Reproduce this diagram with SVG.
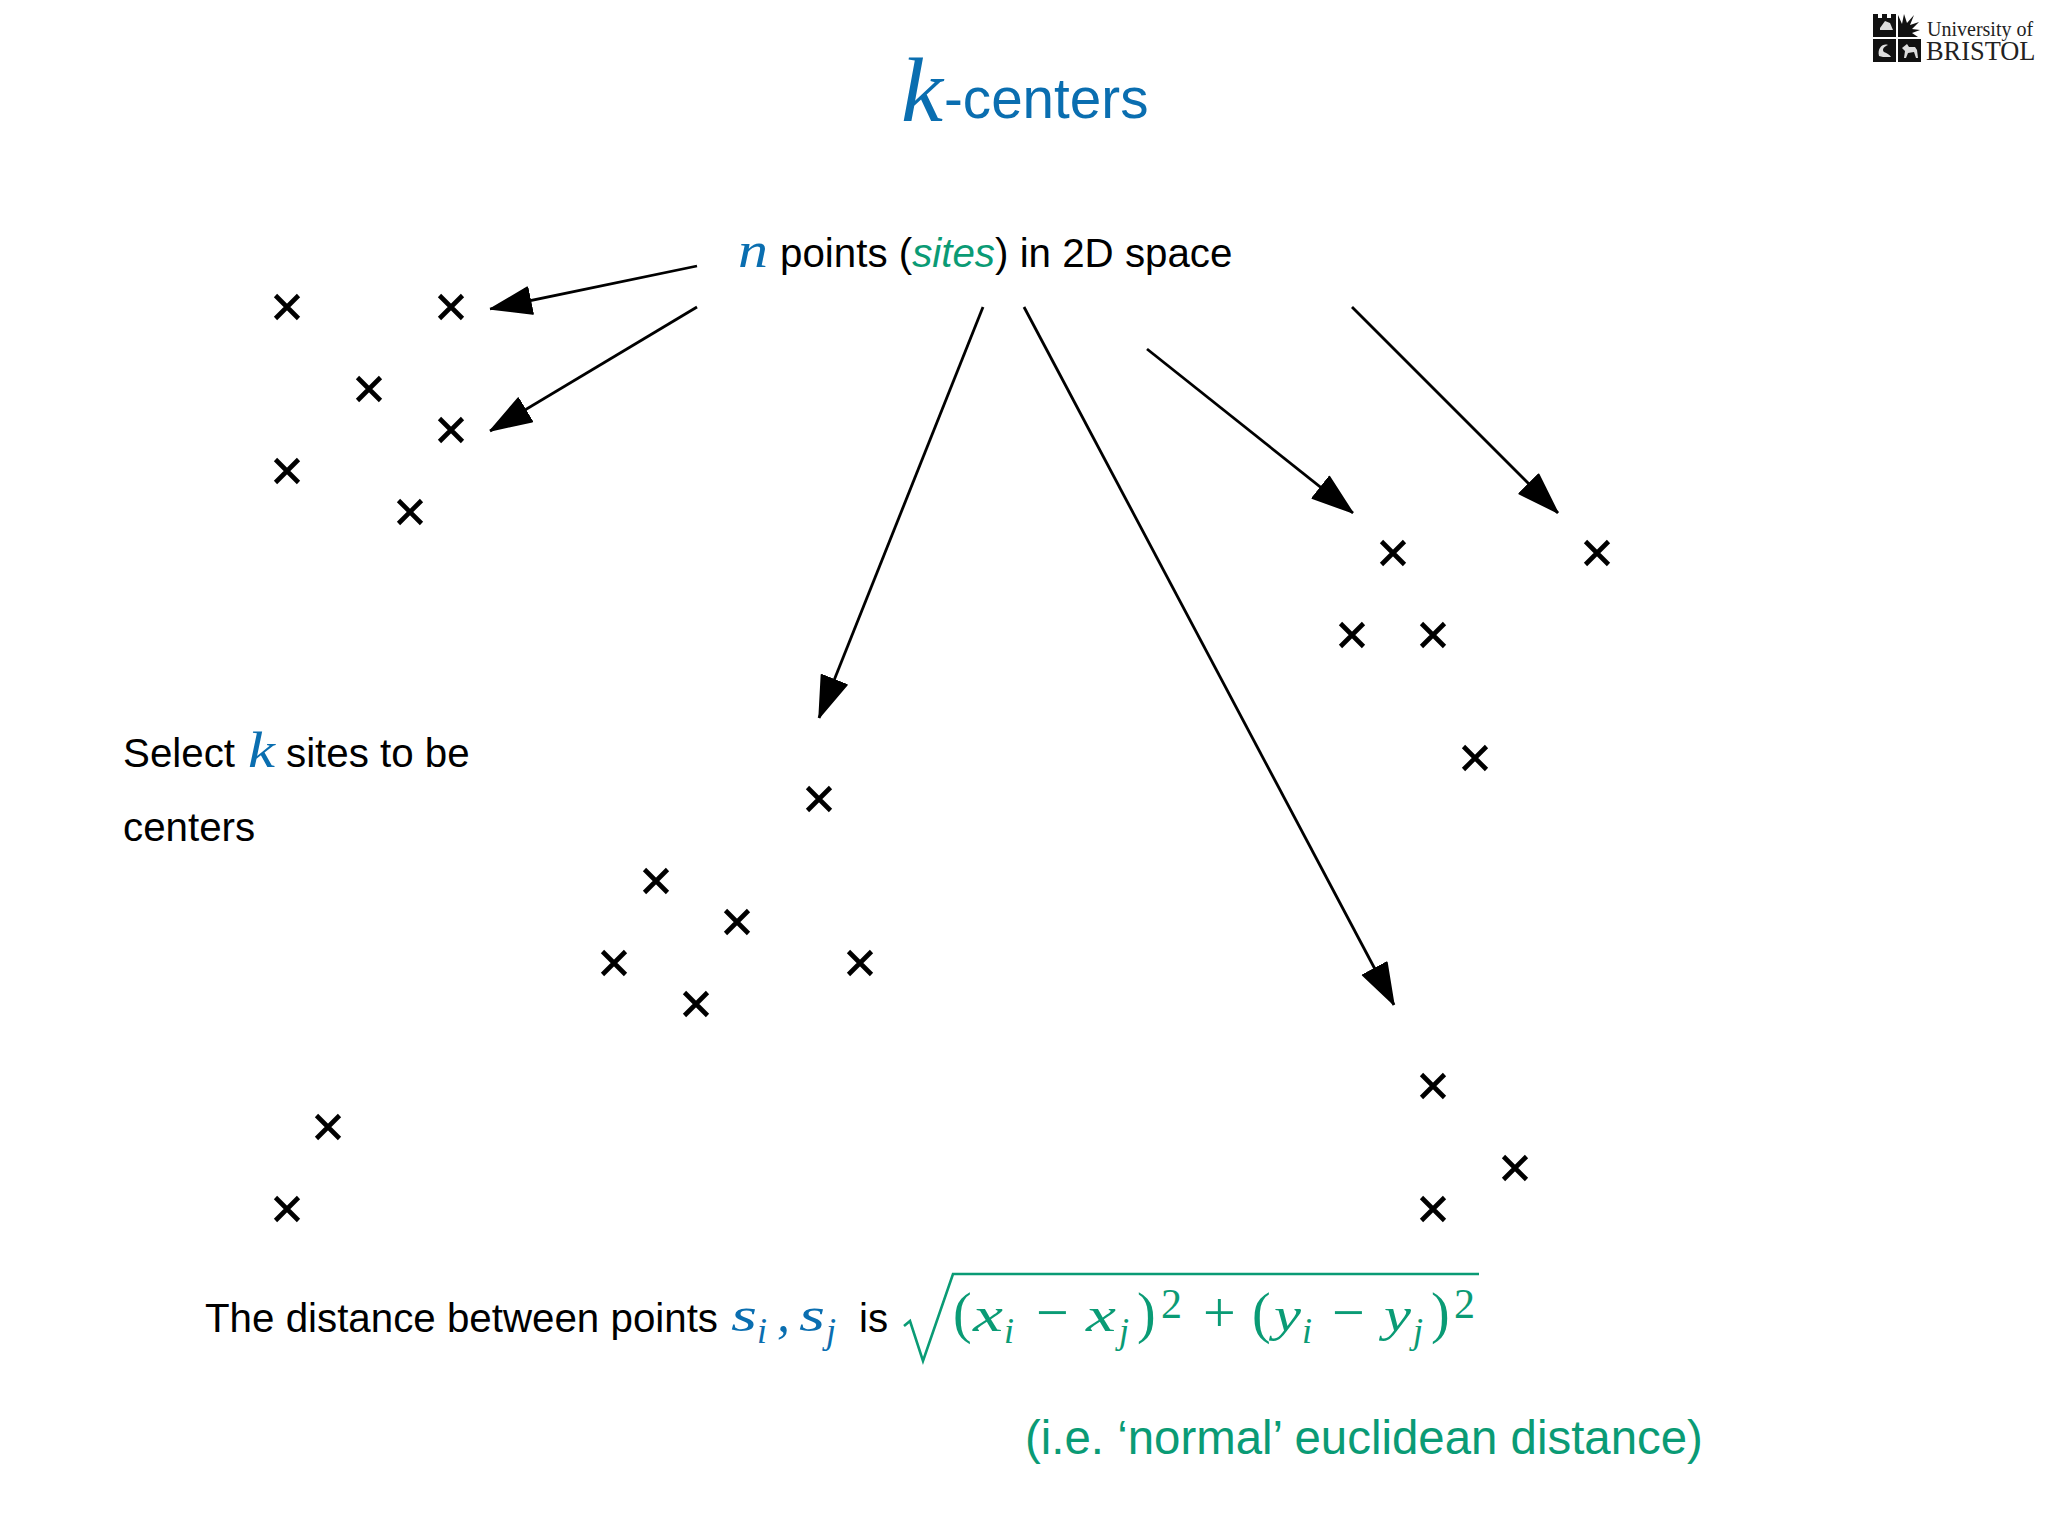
<svg xmlns="http://www.w3.org/2000/svg" width="2048" height="1536" viewBox="0 0 2048 1536">
<defs>
<marker id="ah" markerUnits="userSpaceOnUse" markerWidth="44" markerHeight="34" refX="42" refY="16" orient="auto"><path d="M1 2.5L41 16L1 29.5Z" fill="#000" stroke="#000" stroke-width="2" stroke-linejoin="round"/></marker>
<path id="x" d="M-11.5 -11.5L11.5 11.5M-11.5 11.5L11.5 -11.5" fill="none" stroke="#000" stroke-width="4.6"/>
</defs>
<style>
text{font-family:"Liberation Sans",Arial,sans-serif;fill:#000}
.m{font-family:"Liberation Serif","Times New Roman",serif;font-style:italic}
.n{font-family:"Liberation Serif","Times New Roman",serif}
.b{fill:#0a6eb0}
.g{fill:#0a9b75}
.t{font-size:40.3px}
.s{font-size:36px}
.e{font-size:52px}
.p{font-size:56px}
.o{font-size:58px}
.u{font-size:42px}
.c line{stroke:#000;stroke-width:2.8;marker-end:url(#ah)}
.lg{font-family:"Liberation Serif","Times New Roman",serif;fill:#222}
</style>
<rect width="2048" height="1536" fill="#fff"/>
<g id="logo">
<path d="M1873 14h5v4h4v-4h5v4h4v-4h5v23h-23z" fill="#111"/>
<path d="M1880 28l5-7 5 2 3 7h-13z" fill="#ddd"/>
<path d="M1898 37V15l4 9 2-10 3 9 7-8-4 10 9-3-7 7 8 1-8 3 6 4h-20z" fill="#111"/>
<rect x="1873" y="39" width="23" height="23" fill="#111"/>
<path d="M1879 56c-2-8 4-13 9-11-5 2-6 5-4 7 3 1 6 3 7 5h-8z" fill="#ddd"/>
<rect x="1898" y="39" width="23" height="23" fill="#111"/>
<path d="M1902 48l5-4 2 3h6l2 3 1 8h-2l-2-6-6 1-2 5h-2l1-7z" fill="#ddd"/>
<text class="lg" x="1927" y="36" font-size="20">University of</text>
<text class="lg" x="1926" y="60" font-size="26.4">BRISTOL</text>
</g>
<g id="title"><text class="m b" x="901" y="121" font-size="90" textLength="42" lengthAdjust="spacingAndGlyphs">k</text><text class="b" x="944" y="118" font-size="56.6">-centers</text></g>
<g id="sites-label"><text class="m b" x="738" y="267" font-size="50" textLength="30" lengthAdjust="spacingAndGlyphs">n</text><text class="t" x="780" y="267">points (<tspan class="g" font-style="italic">sites</tspan>) in 2D space</text></g>
<g id="select-label"><text class="t" x="123" y="767">Select</text><text class="m b" x="248" y="767" font-size="50" textLength="27" lengthAdjust="spacingAndGlyphs">k</text><text class="t" x="286" y="767">sites to be</text><text class="t" x="123" y="841">centers</text></g>
<g id="connectors" class="c">
<line x1="697" y1="266" x2="490" y2="309"/>
<line x1="697" y1="307" x2="490" y2="431"/>
<line x1="983" y1="307" x2="819" y2="718"/>
<line x1="1024" y1="307" x2="1394" y2="1005"/>
<line x1="1147" y1="349" x2="1353" y2="513"/>
<line x1="1352" y1="307" x2="1558" y2="513"/>
</g>
<g id="sites">
<use href="#x" x="287" y="307"/><use href="#x" x="451" y="307"/><use href="#x" x="369" y="389"/><use href="#x" x="451" y="430"/><use href="#x" x="287" y="471"/><use href="#x" x="410" y="512"/>
<use href="#x" x="1393" y="553"/><use href="#x" x="1597" y="553"/><use href="#x" x="1352" y="635"/><use href="#x" x="1433" y="635"/><use href="#x" x="1475" y="758"/>
<use href="#x" x="819" y="799"/><use href="#x" x="656" y="881"/><use href="#x" x="737" y="922"/><use href="#x" x="614" y="963"/><use href="#x" x="696" y="1004"/><use href="#x" x="860" y="963"/>
<use href="#x" x="328" y="1127"/><use href="#x" x="287" y="1209"/>
<use href="#x" x="1433" y="1086"/><use href="#x" x="1515" y="1168"/><use href="#x" x="1433" y="1209"/>
</g>
<g id="distance">
<text class="t" x="205" y="1332">The distance between points</text>
<text class="m b" x="731" y="1331" font-size="48" textLength="26" lengthAdjust="spacingAndGlyphs">s</text><text class="m b s" x="757" y="1343">i</text><text class="m b e" x="777" y="1331">,</text><text class="m b" x="799" y="1331" font-size="48" textLength="26" lengthAdjust="spacingAndGlyphs">s</text><text class="m b s" x="826" y="1343">j</text>
<text class="t" x="859" y="1332">is</text>
<path d="M904 1326l6-5 13 40 30-87h526" fill="none" stroke="#0a9b75" stroke-width="2.6"/>
<text class="n g p" x="953" y="1332">(</text><text class="m g" font-size="48" x="973" y="1331" textLength="30" lengthAdjust="spacingAndGlyphs">x</text><text class="m g s" x="1004" y="1343">i</text><text class="n g o" x="1036" y="1332">−</text><text class="m g" font-size="48" x="1086" y="1331" textLength="30" lengthAdjust="spacingAndGlyphs">x</text><text class="m g s" x="1119" y="1343">j</text><text class="n g p" x="1137" y="1332">)</text><text class="n g u" x="1161" y="1318">2</text>
<text class="n g o" x="1203" y="1332">+</text>
<text class="n g p" x="1252" y="1332">(</text><text class="m g" font-size="48" x="1274" y="1331" textLength="27" lengthAdjust="spacingAndGlyphs">y</text><text class="m g s" x="1302" y="1343">i</text><text class="n g o" x="1332" y="1332">−</text><text class="m g" font-size="48" x="1384" y="1331" textLength="27" lengthAdjust="spacingAndGlyphs">y</text><text class="m g s" x="1413" y="1343">j</text><text class="n g p" x="1431" y="1332">)</text><text class="n g u" x="1454" y="1318">2</text>
</g>
<g id="note"><text class="g" x="1025" y="1454" font-size="47.4">(i.e. ‘normal’ euclidean distance)</text></g>
</svg>
